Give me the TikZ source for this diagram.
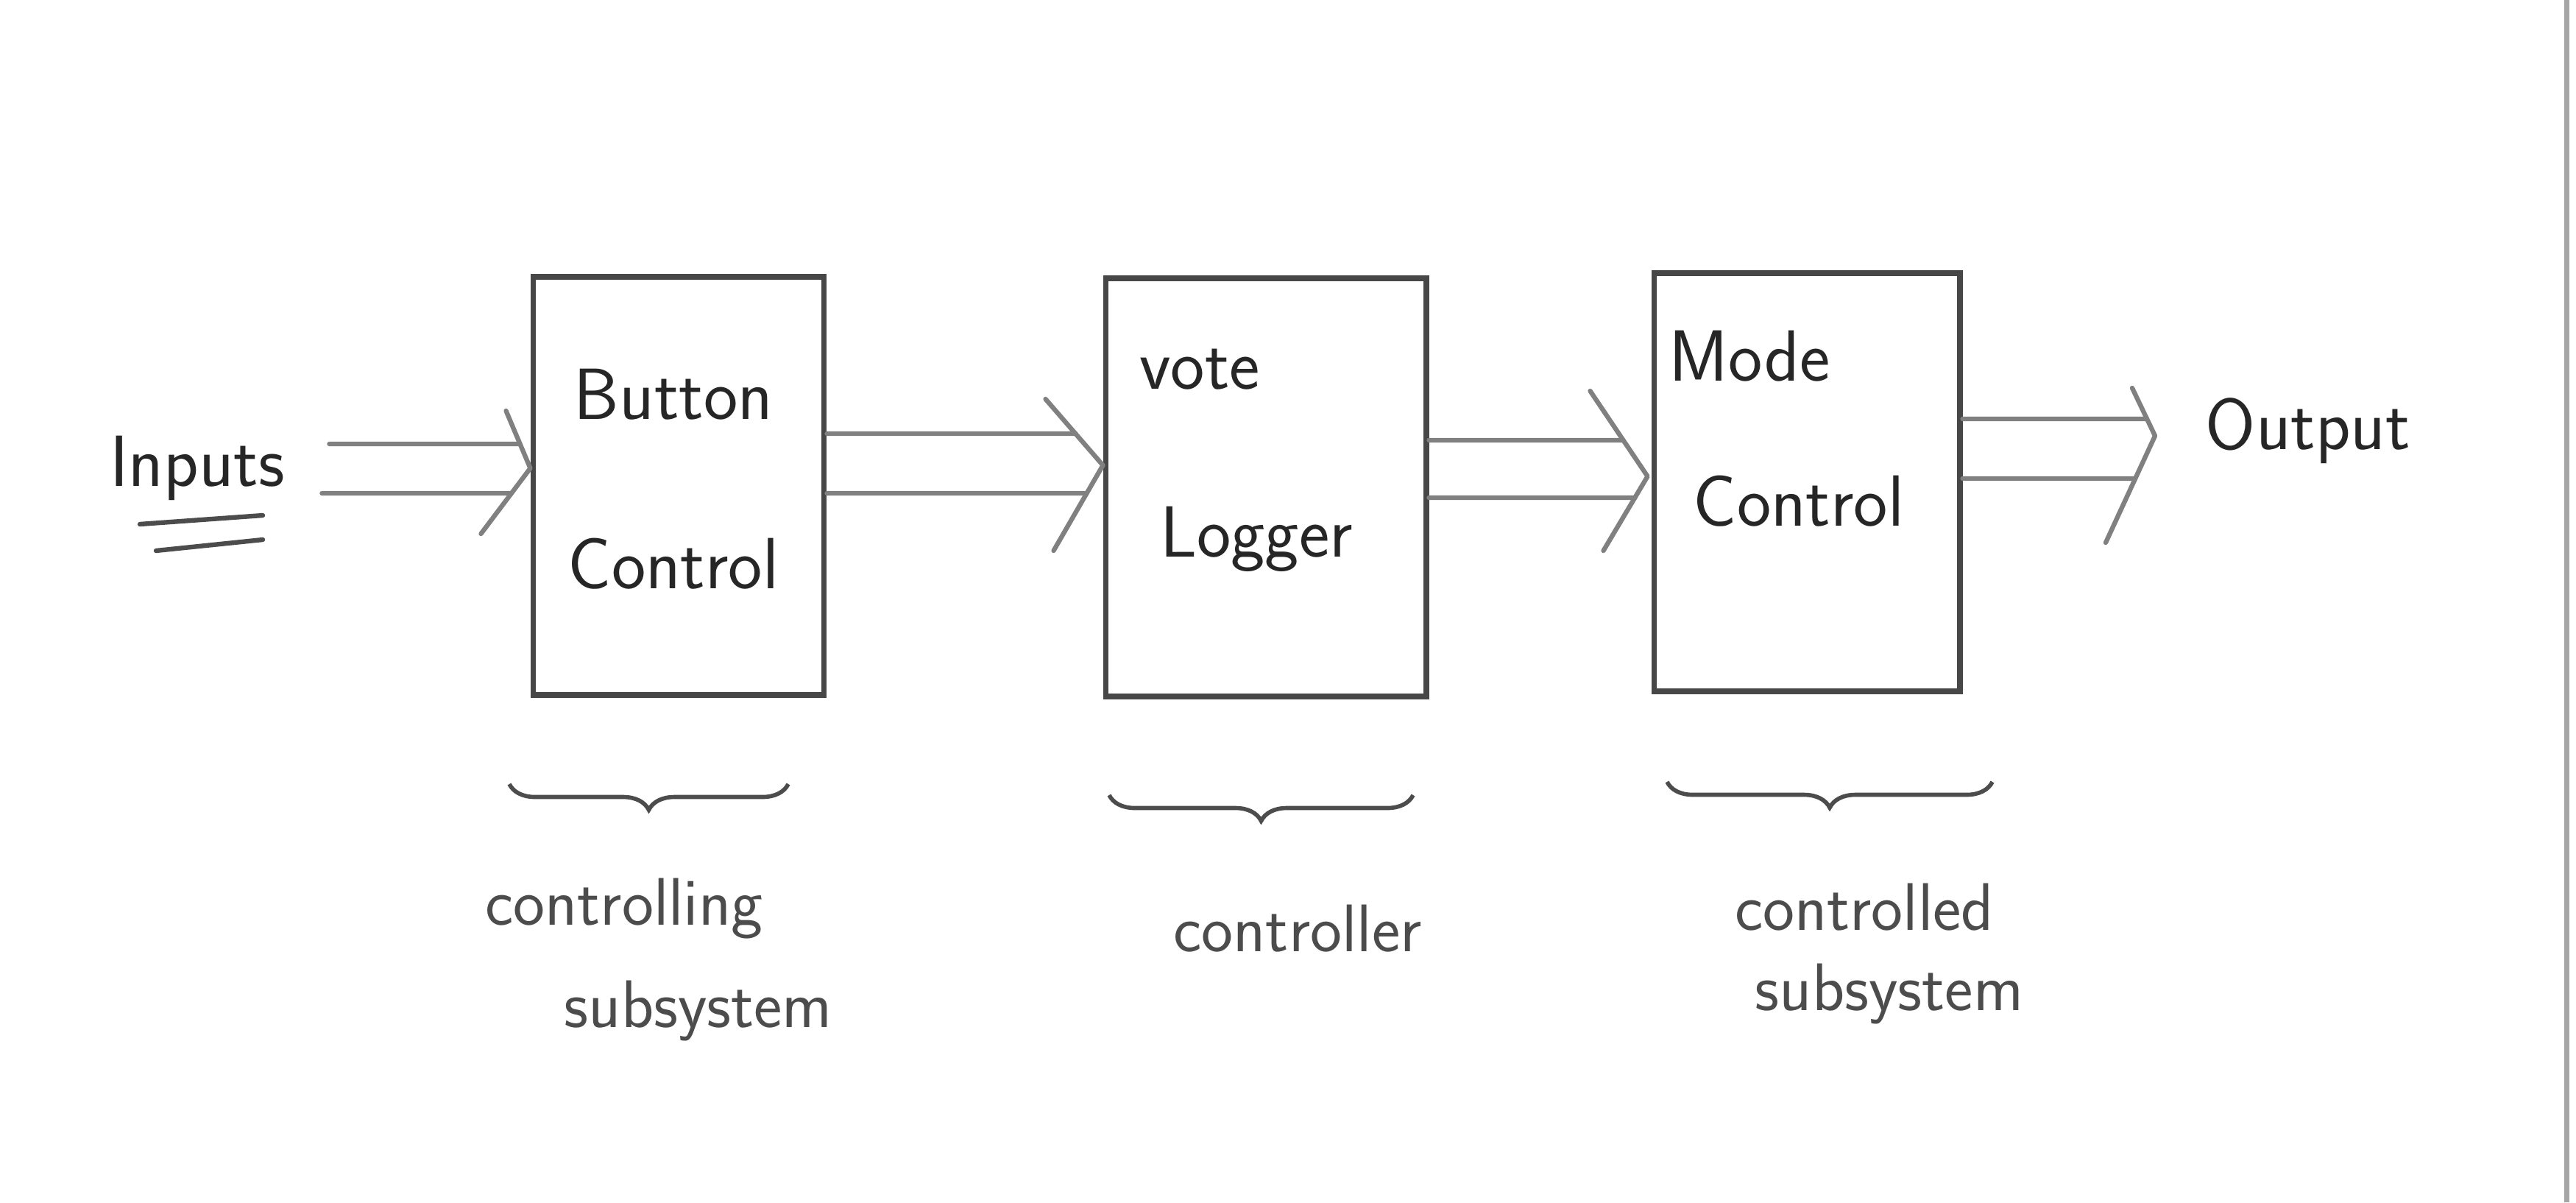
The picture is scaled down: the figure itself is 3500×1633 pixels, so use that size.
\documentclass[tikz,border=0pt]{standalone}
\usetikzlibrary{arrows.meta,calc,decorations.pathreplacing,positioning}
\begin{document}
\begin{tikzpicture}[
    x=0.01cm, y=-0.01cm,
    font=\sffamily\fontsize{28}{32}\selectfont,
    blk/.style={draw=black!72, line width=2.2pt, minimum height=5.67cm, inner sep=0pt},
    wire/.style={black!50, line width=1.8pt, line cap=round, line join=round},
    lbl/.style={black!85, inner sep=0pt},
    note/.style={black!70, inner sep=0pt, font=\sffamily\fontsize{26}{30}\selectfont},
    brc/.style={decorate, decoration={brace, mirror, amplitude=3.5mm},
                black!70, line width=1.6pt}
]
\useasboundingbox (0,0) rectangle (3500,1633);
\fill[white] (0,0) rectangle (3500,1633);
\draw[black!35, line width=2pt] (3487,0) -- (3487,1633);

% the three blocks
\node[blk, minimum width=3.95cm] (btn) at (922,660) {};
\node[blk, minimum width=4.35cm] (vote) at (1720,662) {};
\node[blk, minimum width=4.15cm] (mode) at (2455,655) {};

\node[lbl] (btnA) at (915,536) {Button};
\node[lbl] (btnB) at (915,766) {Control};
\node[lbl] (voteA) at (1630,502) {vote};
\node[lbl] (voteB) at (1707,732) {Logger};
\node[lbl] (modeA) at (2377,484) {Mode};
\node[lbl] (modeB) at (2444,681) {Control};

\node[lbl] (inp) at (268,636) {Inputs};
\node[lbl] (out) at (3136,585) {Output};
\draw[wire, black!70] (190,712) -- (357,700);
\draw[wire, black!70] (212,748) -- (357,733);

% arrow tips
\coordinate (t1) at ([yshift=2.4mm]btn.west);
\coordinate (t2) at ([yshift=3mm]vote.west);
\coordinate (t3) at ([xshift=-0.5mm,yshift=0.8mm]mode.west);
\coordinate (t4) at (2928,592);

% double connectors
\draw[wire] ([xshift=6mm,yshift=3.3mm]inp.east) -- ([xshift=-1.4mm,yshift=3.3mm]t1);
\draw[wire] ([xshift=5mm,yshift=-3.4mm]inp.east) -- ([xshift=-2.6mm,yshift=-3.4mm]t1);
\draw[wire] ([yshift=7.1mm]btn.east) -- ([xshift=-3.7mm,yshift=4.3mm]t2);
\draw[wire] ([yshift=-1mm]btn.east) -- ([xshift=-2.2mm,yshift=-3.8mm]t2);
\draw[wire] ([yshift=6.4mm]vote.east) -- ([xshift=-3.3mm,yshift=4.9mm]t3);
\draw[wire] ([yshift=-1.4mm]vote.east) -- ([xshift=-1.7mm,yshift=-2.9mm]t3);
\draw[wire] ([yshift=8.6mm]mode.east) -- ([xshift=-1.1mm,yshift=2.3mm]t4);
\draw[wire] ([yshift=0.5mm]mode.east) -- ([xshift=-2.7mm,yshift=-5.8mm]t4);

\foreach \t/\ax/\ay/\bx/\by in {t1/-33/-78/-67/89, t2/-78/-90/-67/116,
                                t3/-78/-116/-60/101, t4/-31/-65/-67/145}
    \draw[wire] ($(\t)+(\ax,\ay)$) -- (\t) -- ($(\t)+(\bx,\by)$);

% braces and notes
\draw[brc] (692,1065) -- (1071,1065);
\draw[brc] (1507,1080) -- (1920,1080);
\draw[brc] (2265,1062) -- (2707,1062);

\node[note] (ctlA) at (848,1234) {controlling};
\node[note] (ctlB) at (949,1373) {subsystem};
\node[note] (ctr) at (1763,1261) {controller};
\node[note] (cdA) at (2533,1232) {controlled};
\node[note] (cdB) at (2567,1350) {subsystem};
\end{tikzpicture}
\end{document}
